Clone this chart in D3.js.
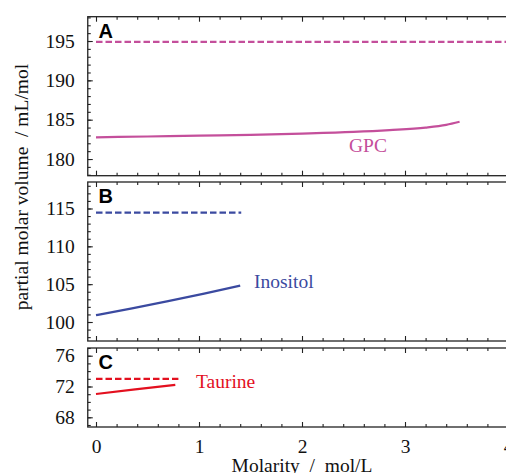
<!DOCTYPE html>
<head>
<meta charset="utf-8">
<script src="https://cdn.jsdelivr.net/npm/d3@7"></script>
<style>
body { margin:0; background:#fff; }
svg { display:block; }
.axis path { display:none; }
.axis line { stroke:#222; stroke-width:1.1; }
.frame { fill:none; stroke:#222; stroke-width:1.3; }
.lbl { font-family:"Liberation Serif", "Times New Roman", serif; font-size:19.5px; }
.letter { font-family:"Liberation Sans", Arial, sans-serif; font-weight:bold; font-size:20px; fill:#000; }
</style>
</head>
<body>
<div id="chart"></div>
<script>

// --- data ---
let gpcM = [0, 0.5, 1, 1.5, 2, 2.5, 2.85, 3.2, 3.4, 3.53],
    gpcV = [182.76, 182.86, 182.97, 183.08, 183.24, 183.45, 183.68, 184.0, 184.35, 184.74],
    gpcInf = 194.9, gpcInfEnd = 4.2;

let inoM = [0, 0.35, 0.7, 1.05, 1.4],
    inoV = [100.9, 101.8, 102.75, 103.75, 104.8],
    inoInf = 114.45, inoInfEnd = 1.41;

let tauM = [0, 0.38, 0.77],
    tauV = [71.03, 71.62, 72.2],
    tauInf = 73.0, tauInfEnd = 0.8;

let xTicks = [0, 1, 2, 3, 4];
let yTicksA = [180, 185, 190, 195],
    yTicksB = [100, 105, 110, 115],
    yTicksC = [68, 72, 76];

let W = 506, H = 473;

let svg = d3.select("#chart").append("svg")
    .attr("width", W)
    .attr("height", H);

let x = d3.scaleLinear().domain([0, 4]).range([96, 508]);
let xLeft = x(-0.08), xRight = x(4.1);

let panels = [
  {letter:"A", top:16.7, bottom:175.7, dom:[177.88, 198.09], ticks:yTicksA, minor:d3.range(178, 199, 1),
   color:"#c44f9b", m:gpcM, v:gpcV, inf:gpcInf, infEnd:gpcInfEnd, name:"GPC", lx:368, ly:152, anchor:"middle"},
  {letter:"B", top:182, bottom:341, dom:[97.49, 118.5], ticks:yTicksB, minor:d3.range(98, 119, 1),
   color:"#3b4aa0", m:inoM, v:inoV, inf:inoInf, infEnd:inoInfEnd, name:"Inositol", lx:254, ly:287.5, anchor:"start"},
  {letter:"C", top:348, bottom:427, dom:[66.74, 77.0], ticks:yTicksC, minor:d3.range(67, 78, 1),
   color:"#e3101f", m:tauM, v:tauV, inf:tauInf, infEnd:tauInfEnd, name:"Taurine", lx:196, ly:388, anchor:"start"}
];

let minorX = d3.range(0, 4.21, 0.2).filter(function(d) { return Math.abs(d - Math.round(d)) > 0.01; });

// serif tick labels (axis sets sans-serif on its group)
function serif(sel) {
  sel.attr("font-family", null).attr("font-size", null);
  sel.selectAll("text")
      .style("font-family", "'Liberation Serif', 'Times New Roman', serif")
      .style("font-size", "19.5px")
      .style("fill", "#111");
}

panels.forEach(function(p, i) {
  let y = d3.scaleLinear().domain(p.dom).range([p.bottom, p.top]);
  let g = svg.append("g");

  // x ticks on top and bottom edges, pointing inward
  g.append("g").attr("class", "axis")
      .attr("transform", "translate(0," + p.top + ")")
      .call(d3.axisBottom(x).tickValues(xTicks).tickSize(5).tickFormat(""));
  g.append("g").attr("class", "axis")
      .attr("transform", "translate(0," + p.top + ")")
      .call(d3.axisBottom(x).tickValues(minorX).tickSize(3).tickFormat(""));
  g.append("g").attr("class", "axis")
      .attr("transform", "translate(0," + p.bottom + ")")
      .call(d3.axisTop(x).tickValues(minorX).tickSize(3).tickFormat(""));
  let xb = d3.axisBottom(x).tickValues(xTicks).tickSizeInner(-5).tickSizeOuter(0).tickPadding(12.5)
      .tickFormat(i < 2 ? "" : d3.format("d"));
  g.append("g").attr("class", "axis")
      .attr("transform", "translate(0," + p.bottom + ")")
      .call(xb)
      .call(serif);

  // y ticks, inward
  g.append("g").attr("class", "axis")
      .attr("transform", "translate(" + xLeft + ",0)")
      .call(d3.axisRight(y).tickValues(p.minor).tickSize(3).tickFormat(""));
  g.append("g").attr("class", "axis")
      .attr("transform", "translate(" + xLeft + ",0)")
      .call(d3.axisLeft(y).tickValues(p.ticks).tickSizeInner(-5).tickSizeOuter(0).tickPadding(13)
        .tickFormat(d3.format("d")))
      .call(serif);

  g.append("rect").attr("class", "frame")
      .attr("x", xLeft).attr("y", p.top)
      .attr("width", xRight - xLeft).attr("height", p.bottom - p.top);

  // infinite dilution (dashed) and measured (solid)
  g.append("line")
      .attr("x1", x(0)).attr("x2", x(p.infEnd))
      .attr("y1", y(p.inf)).attr("y2", y(p.inf))
      .attr("stroke", p.color).attr("stroke-width", 2.2)
      .attr("stroke-dasharray", "6.5,3");

  let line = d3.line()
      .x(function(d) { return x(d[0]); })
      .y(function(d) { return y(d[1]); })
      .curve(d3.curveMonotoneX);
  g.append("path")
      .datum(d3.zip(p.m, p.v))
      .attr("fill", "none")
      .attr("stroke", p.color).attr("stroke-width", 2.2)
      .attr("d", line);

  g.append("text").attr("class", "lbl")
      .attr("x", p.lx).attr("y", p.ly)
      .attr("text-anchor", p.anchor)
      .attr("fill", p.color)
      .text(p.name);

  g.append("text").attr("class", "letter")
      .attr("x", 98.5).attr("y", p.top + 21)
      .text(p.letter);
});

// axis titles
svg.append("text").attr("class", "lbl")
    .attr("x", 302).attr("y", 472)
    .attr("text-anchor", "middle")
    .attr("fill", "#111")
    .style("white-space", "pre")
    .text("Molarity  /  mol/L");

svg.append("text").attr("class", "lbl")
    .attr("transform", "translate(28,187) rotate(-90)")
    .attr("text-anchor", "middle")
    .attr("fill", "#111")
    .style("white-space", "pre")
    .text("partial molar volume  / mL/mol");

</script>
</body>
